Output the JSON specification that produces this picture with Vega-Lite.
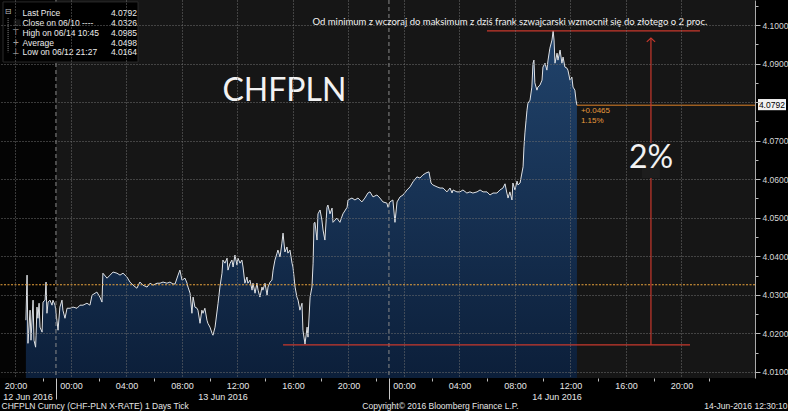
{
"$schema": "https://vega.github.io/schema/vega-lite/v6.json",
"width": 755, "height": 378,
"autosize": {"type": "none"},
"padding": {"left": 0, "top": 0, "right": 33, "bottom": 33},
"background": "#000000",
"config": {"view": {"stroke": null}, "axis": {"labelFont": "Liberation Sans", "titleFont": "Liberation Sans"}},
"datasets": {
"price": [
{"t":"2016-06-12T20:45","p":4.0234},{"t":"2016-06-12T20:50","p":4.0351},{"t":"2016-06-12T20:54","p":4.0174},{"t":"2016-06-12T21:03","p":4.0260},{"t":"2016-06-12T21:07","p":4.0182},{"t":"2016-06-12T21:16","p":4.0286},{"t":"2016-06-12T21:20","p":4.0182},{"t":"2016-06-12T21:27","p":4.0164},{"t":"2016-06-12T21:29","p":4.0195},{"t":"2016-06-12T21:33","p":4.0268},{"t":"2016-06-12T21:37","p":4.0239},{"t":"2016-06-12T21:42","p":4.0278},{"t":"2016-06-12T21:46","p":4.0216},{"t":"2016-06-12T21:55","p":4.0203},{"t":"2016-06-12T21:59","p":4.0281},{"t":"2016-06-12T22:08","p":4.0286},{"t":"2016-06-12T22:12","p":4.0333},{"t":"2016-06-12T22:16","p":4.0252},{"t":"2016-06-12T22:21","p":4.0281},{"t":"2016-06-12T22:29","p":4.0286},{"t":"2016-06-12T22:38","p":4.0273},{"t":"2016-06-12T22:42","p":4.0286},{"t":"2016-06-12T22:51","p":4.0273},{"t":"2016-06-12T22:59","p":4.0234},{"t":"2016-06-12T23:04","p":4.0208},{"t":"2016-06-12T23:12","p":4.0268},{"t":"2016-06-12T23:21","p":4.0286},{"t":"2016-06-12T23:25","p":4.0260},{"t":"2016-06-12T23:34","p":4.0239},{"t":"2016-06-12T23:43","p":4.0265},{"t":"2016-06-12T23:56","p":4.0265},
{"t":"2016-06-13T00:09","p":4.0268},{"t":"2016-06-13T00:26","p":4.0265},{"t":"2016-06-13T00:39","p":4.0273},{"t":"2016-06-13T00:52","p":4.0273},{"t":"2016-06-13T01:09","p":4.0278},{"t":"2016-06-13T01:22","p":4.0273},{"t":"2016-06-13T01:31","p":4.0299},{"t":"2016-06-13T01:44","p":4.0304},{"t":"2016-06-13T01:52","p":4.0307},{"t":"2016-06-13T02:05","p":4.0294},{"t":"2016-06-13T02:14","p":4.0281},{"t":"2016-06-13T02:18","p":4.0356},{"t":"2016-06-13T02:36","p":4.0343},{"t":"2016-06-13T02:49","p":4.0351},{"t":"2016-06-13T03:02","p":4.0359},{"t":"2016-06-13T03:19","p":4.0356},{"t":"2016-06-13T03:32","p":4.0351},{"t":"2016-06-13T03:45","p":4.0356},{"t":"2016-06-13T04:02","p":4.0346},{"t":"2016-06-13T04:15","p":4.0333},{"t":"2016-06-13T04:28","p":4.0325},{"t":"2016-06-13T04:45","p":4.0317},{"t":"2016-06-13T04:58","p":4.0333},{"t":"2016-06-13T05:11","p":4.0325},{"t":"2016-06-13T05:29","p":4.0320},{"t":"2016-06-13T05:42","p":4.0330},{"t":"2016-06-13T05:55","p":4.0325},{"t":"2016-06-13T06:12","p":4.0330},{"t":"2016-06-13T06:25","p":4.0330},{"t":"2016-06-13T06:38","p":4.0333},{"t":"2016-06-13T06:55","p":4.0330},{"t":"2016-06-13T07:08","p":4.0333},{"t":"2016-06-13T07:21","p":4.0328},{"t":"2016-06-13T07:30","p":4.0328},{"t":"2016-06-13T07:43","p":4.0351},{"t":"2016-06-13T07:51","p":4.0364},{"t":"2016-06-13T08:00","p":4.0338},{"t":"2016-06-13T08:13","p":4.0343},{"t":"2016-06-13T08:22","p":4.0330},{"t":"2016-06-13T08:26","p":4.0320},{"t":"2016-06-13T08:35","p":4.0304},{"t":"2016-06-13T08:43","p":4.0252},{"t":"2016-06-13T08:48","p":4.0294},{"t":"2016-06-13T08:56","p":4.0268},{"t":"2016-06-13T09:05","p":4.0265},{"t":"2016-06-13T09:09","p":4.0260},{"t":"2016-06-13T09:18","p":4.0226},{"t":"2016-06-13T09:26","p":4.0260},{"t":"2016-06-13T09:31","p":4.0252},{"t":"2016-06-13T09:39","p":4.0265},{"t":"2016-06-13T09:48","p":4.0234},{"t":"2016-06-13T09:52","p":4.0226},{"t":"2016-06-13T10:01","p":4.0216},{"t":"2016-06-13T10:10","p":4.0200},{"t":"2016-06-13T10:14","p":4.0195},{"t":"2016-06-13T10:23","p":4.0216},{"t":"2016-06-13T10:36","p":4.0278},{"t":"2016-06-13T10:44","p":4.0320},{"t":"2016-06-13T10:53","p":4.0356},{"t":"2016-06-13T10:57","p":4.0390},{"t":"2016-06-13T11:06","p":4.0382},{"t":"2016-06-13T11:15","p":4.0395},{"t":"2016-06-13T11:19","p":4.0364},{"t":"2016-06-13T11:28","p":4.0382},{"t":"2016-06-13T11:36","p":4.0390},{"t":"2016-06-13T11:41","p":4.0372},{"t":"2016-06-13T11:49","p":4.0403},{"t":"2016-06-13T11:58","p":4.0377},{"t":"2016-06-13T12:02","p":4.0395},{"t":"2016-06-13T12:11","p":4.0382},{"t":"2016-06-13T12:19","p":4.0390},{"t":"2016-06-13T12:24","p":4.0372},{"t":"2016-06-13T12:32","p":4.0330},{"t":"2016-06-13T12:41","p":4.0346},{"t":"2016-06-13T12:45","p":4.0330},{"t":"2016-06-13T12:54","p":4.0338},{"t":"2016-06-13T13:03","p":4.0312},{"t":"2016-06-13T13:07","p":4.0330},{"t":"2016-06-13T13:16","p":4.0304},{"t":"2016-06-13T13:24","p":4.0330},{"t":"2016-06-13T13:29","p":4.0312},{"t":"2016-06-13T13:37","p":4.0294},{"t":"2016-06-13T13:46","p":4.0320},{"t":"2016-06-13T13:50","p":4.0312},{"t":"2016-06-13T13:59","p":4.0330},{"t":"2016-06-13T14:08","p":4.0299},{"t":"2016-06-13T14:12","p":4.0320},{"t":"2016-06-13T14:21","p":4.0333},{"t":"2016-06-13T14:29","p":4.0338},{"t":"2016-06-13T14:34","p":4.0364},{"t":"2016-06-13T14:42","p":4.0390},{"t":"2016-06-13T14:51","p":4.0408},{"t":"2016-06-13T14:55","p":4.0416},{"t":"2016-06-13T15:04","p":4.0398},{"t":"2016-06-13T15:12","p":4.0434},{"t":"2016-06-13T15:17","p":4.0460},{"t":"2016-06-13T15:25","p":4.0411},{"t":"2016-06-13T15:34","p":4.0424},{"t":"2016-06-13T15:38","p":4.0408},{"t":"2016-06-13T15:47","p":4.0416},{"t":"2016-06-13T15:56","p":4.0382},{"t":"2016-06-13T16:00","p":4.0372},{"t":"2016-06-13T16:09","p":4.0320},{"t":"2016-06-13T16:17","p":4.0294},{"t":"2016-06-13T16:22","p":4.0286},{"t":"2016-06-13T16:30","p":4.0260},{"t":"2016-06-13T16:39","p":4.0278},{"t":"2016-06-13T16:43","p":4.0208},{"t":"2016-06-13T16:52","p":4.0172},{"t":"2016-06-13T17:01","p":4.0216},{"t":"2016-06-13T17:05","p":4.0190},{"t":"2016-06-13T17:14","p":4.0294},{"t":"2016-06-13T17:22","p":4.0320},{"t":"2016-06-13T17:27","p":4.0382},{"t":"2016-06-13T17:31","p":4.0486},{"t":"2016-06-13T17:35","p":4.0488},{"t":"2016-06-13T17:44","p":4.0442},{"t":"2016-06-13T17:48","p":4.0510},{"t":"2016-06-13T17:57","p":4.0520},{"t":"2016-06-13T18:05","p":4.0494},{"t":"2016-06-13T18:10","p":4.0468},{"t":"2016-06-13T18:18","p":4.0442},{"t":"2016-06-13T18:27","p":4.0527},{"t":"2016-06-13T18:31","p":4.0533},{"t":"2016-06-13T18:40","p":4.0510},{"t":"2016-06-13T18:49","p":4.0525},{"t":"2016-06-13T18:53","p":4.0488},{"t":"2016-06-13T19:10","p":4.0499},{"t":"2016-06-13T19:23","p":4.0488},{"t":"2016-06-13T19:36","p":4.0510},{"t":"2016-06-13T19:54","p":4.0527},{"t":"2016-06-13T19:58","p":4.0546},{"t":"2016-06-13T20:15","p":4.0551},{"t":"2016-06-13T20:28","p":4.0546},{"t":"2016-06-13T20:41","p":4.0551},{"t":"2016-06-13T20:58","p":4.0541},{"t":"2016-06-13T21:11","p":4.0551},{"t":"2016-06-13T21:24","p":4.0564},{"t":"2016-06-13T21:33","p":4.0567},{"t":"2016-06-13T21:46","p":4.0554},{"t":"2016-06-13T22:03","p":4.0559},{"t":"2016-06-13T22:16","p":4.0551},{"t":"2016-06-13T22:29","p":4.0541},{"t":"2016-06-13T22:46","p":4.0538},{"t":"2016-06-13T22:51","p":4.0527},{"t":"2016-06-13T22:59","p":4.0541},{"t":"2016-06-13T23:12","p":4.0546},{"t":"2016-06-13T23:21","p":4.0488},{"t":"2016-06-13T23:30","p":4.0541},{"t":"2016-06-13T23:43","p":4.0554},{"t":"2016-06-13T23:56","p":4.0559},
{"t":"2016-06-14T00:13","p":4.0572},{"t":"2016-06-14T00:26","p":4.0580},{"t":"2016-06-14T00:39","p":4.0593},{"t":"2016-06-14T00:56","p":4.0606},{"t":"2016-06-14T01:09","p":4.0603},{"t":"2016-06-14T01:22","p":4.0611},{"t":"2016-06-14T01:35","p":4.0616},{"t":"2016-06-14T01:48","p":4.0619},{"t":"2016-06-14T01:57","p":4.0590},{"t":"2016-06-14T02:05","p":4.0585},{"t":"2016-06-14T02:23","p":4.0580},{"t":"2016-06-14T02:36","p":4.0577},{"t":"2016-06-14T02:49","p":4.0577},{"t":"2016-06-14T03:06","p":4.0567},{"t":"2016-06-14T03:19","p":4.0577},{"t":"2016-06-14T03:28","p":4.0564},{"t":"2016-06-14T03:32","p":4.0572},{"t":"2016-06-14T03:49","p":4.0567},{"t":"2016-06-14T04:02","p":4.0567},{"t":"2016-06-14T04:15","p":4.0572},{"t":"2016-06-14T04:32","p":4.0564},{"t":"2016-06-14T04:45","p":4.0567},{"t":"2016-06-14T04:58","p":4.0564},{"t":"2016-06-14T05:16","p":4.0567},{"t":"2016-06-14T05:29","p":4.0572},{"t":"2016-06-14T05:42","p":4.0567},{"t":"2016-06-14T05:59","p":4.0567},{"t":"2016-06-14T06:12","p":4.0559},{"t":"2016-06-14T06:25","p":4.0564},{"t":"2016-06-14T06:42","p":4.0564},{"t":"2016-06-14T06:55","p":4.0572},{"t":"2016-06-14T07:08","p":4.0577},{"t":"2016-06-14T07:17","p":4.0588},{"t":"2016-06-14T07:25","p":4.0564},{"t":"2016-06-14T07:30","p":4.0551},{"t":"2016-06-14T07:38","p":4.0567},{"t":"2016-06-14T07:47","p":4.0546},{"t":"2016-06-14T07:51","p":4.0590},{"t":"2016-06-14T08:00","p":4.0572},{"t":"2016-06-14T08:09","p":4.0595},{"t":"2016-06-14T08:13","p":4.0585},{"t":"2016-06-14T08:22","p":4.0590},{"t":"2016-06-14T08:30","p":4.0616},{"t":"2016-06-14T08:35","p":4.0632},{"t":"2016-06-14T08:39","p":4.0684},{"t":"2016-06-14T08:43","p":4.0720},{"t":"2016-06-14T08:48","p":4.0753},{"t":"2016-06-14T08:52","p":4.0779},{"t":"2016-06-14T08:56","p":4.0797},{"t":"2016-06-14T09:05","p":4.0805},{"t":"2016-06-14T09:13","p":4.0839},{"t":"2016-06-14T09:18","p":4.0901},{"t":"2016-06-14T09:22","p":4.0909},{"t":"2016-06-14T09:26","p":4.0850},{"t":"2016-06-14T09:35","p":4.0831},{"t":"2016-06-14T09:39","p":4.0839},{"t":"2016-06-14T09:48","p":4.0844},{"t":"2016-06-14T09:57","p":4.0857},{"t":"2016-06-14T10:01","p":4.0891},{"t":"2016-06-14T10:10","p":4.0901},{"t":"2016-06-14T10:18","p":4.0883},{"t":"2016-06-14T10:23","p":4.0909},{"t":"2016-06-14T10:31","p":4.0940},{"t":"2016-06-14T10:40","p":4.0961},{"t":"2016-06-14T10:45","p":4.0985},{"t":"2016-06-14T10:49","p":4.0961},{"t":"2016-06-14T10:53","p":4.0901},{"t":"2016-06-14T11:02","p":4.0927},{"t":"2016-06-14T11:06","p":4.0909},{"t":"2016-06-14T11:15","p":4.0935},{"t":"2016-06-14T11:23","p":4.0901},{"t":"2016-06-14T11:28","p":4.0917},{"t":"2016-06-14T11:36","p":4.0891},{"t":"2016-06-14T11:45","p":4.0888},{"t":"2016-06-14T11:49","p":4.0883},{"t":"2016-06-14T11:58","p":4.0857},{"t":"2016-06-14T12:06","p":4.0865},{"t":"2016-06-14T12:11","p":4.0839},{"t":"2016-06-14T12:19","p":4.0831},{"t":"2016-06-14T12:24","p":4.0805},{"t":"2016-06-14T12:28","p":4.0792}
],
"legend": [
{"label":"Last Price","value":"4.0792","p":4.1032},
{"label":"Close on 06/10 ----","value":"4.0326","p":4.1005},
{"label":"High on 06/14 10:45","value":"4.0985","p":4.0979},
{"label":"Average","value":"4.0498","p":4.0954},
{"label":"Low on 06/12 21:27","value":"4.0164","p":4.0929}
]
},
"resolve": {"axis": {"x": "independent", "y": "independent"}},
"layer": [
{
"data": {"values": [{"t":"2016-06-12T18:53","t2":"2016-06-12T22:55","s":"prev"},{"t":"2016-06-12T22:55","t2":"2016-06-15T01:18","s":"cur"}]},
"mark": {"type": "rect"},
"encoding": {
"x": {"field": "t", "type": "temporal", "scale": {"domain": [{"year":2016,"month":6,"date":12,"hours":18,"minutes":53},{"year":2016,"month":6,"date":15,"hours":1,"minutes":18}]},
 "axis": {"orient": "bottom", "values": [{"year":2016,"month":6,"date":12,"hours":22,"minutes":55},{"year":2016,"month":6,"date":13,"hours":22,"minutes":55}], "labels": false, "ticks": true, "tickSize": 21, "tickColor": "#c8c8c8", "domain": false, "grid": false,
  "title": "CHFPLN Curncy (CHF-PLN X-RATE) 1 Days  Tick", "titleX": 1, "titleY": 27, "titleAlign": "left", "titleBaseline": "middle", "titleFontSize": 8.5, "titleFontWeight": "normal", "titleColor": "#e6e6e6"}},
"x2": {"field": "t2"},
"color": {"field": "s", "type": "nominal", "scale": {"domain": ["prev","cur"], "range": ["#040404","#161616"]}, "legend": null}
}
},
{
"data": {"name": "price"},
"mark": {"type": "area", "color": {"gradient": "linear", "x1": 0, "y1": 0, "x2": 0, "y2": 1, "stops": [{"offset": 0, "color": "#21436b"}, {"offset": 1, "color": "#0c1f3a"}]}},
"encoding": {
"x": {"field": "t", "type": "temporal", "scale": {"domain": [{"year":2016,"month":6,"date":12,"hours":18,"minutes":53},{"year":2016,"month":6,"date":15,"hours":1,"minutes":18}]},
 "axis": {"orient": "bottom", "zindex": 1, "values": [{"year":2016,"month":6,"date":12,"hours":20},{"year":2016,"month":6,"date":13,"hours":0},{"year":2016,"month":6,"date":13,"hours":4},{"year":2016,"month":6,"date":13,"hours":8},{"year":2016,"month":6,"date":13,"hours":12},{"year":2016,"month":6,"date":13,"hours":16},{"year":2016,"month":6,"date":13,"hours":20},{"year":2016,"month":6,"date":14,"hours":0},{"year":2016,"month":6,"date":14,"hours":4},{"year":2016,"month":6,"date":14,"hours":8},{"year":2016,"month":6,"date":14,"hours":12},{"year":2016,"month":6,"date":14,"hours":16},{"year":2016,"month":6,"date":14,"hours":20}],
  "format": "%H:%M", "labelColor": "#e6e6e6", "labelFontSize": 9, "labelPadding": 3, "labelFlush": false, "labelOverlap": false, "ticks": false, "domain": false, "grid": true, "gridColor": "#707070", "gridDash": [1, 2], "gridWidth": 1, "title": null}},
"y": {"field": "p", "type": "quantitative", "scale": {"domain": [4.0084, 4.1065], "zero": false, "nice": false},
 "axis": {"orient": "right", "zindex": 1, "values": [4.01,4.02,4.03,4.04,4.05,4.06,4.07,4.08,4.09,4.1],
  "labelExpr": "abs(datum.value-4.08)<0.001 ? '' : format(datum.value,'.4f')",
  "labelColor": "#d8d8d8", "labelFontSize": 8.5, "labelPadding": 2, "labelFlush": false, "labelOverlap": false,
  "tickSize": 5, "tickColor": "#bbbbbb", "domain": true, "domainColor": "#aaaaaa",
  "grid": true, "gridColor": "#707070", "gridDash": [1, 2], "title": null}},
"y2": {"datum": 4.0084}
}
},
{
"data": {"name": "price"},
"mark": {"type": "line", "color": "#dfe2e6", "strokeWidth": 1},
"encoding": {
"x": {"field": "t", "type": "temporal", "scale": {"domain": [{"year":2016,"month":6,"date":12,"hours":18,"minutes":53},{"year":2016,"month":6,"date":15,"hours":1,"minutes":18}]},
 "axis": {"orient": "bottom", "values": [{"year":2016,"month":6,"date":12,"hours":20,"minutes":52},{"year":2016,"month":6,"date":13,"hours":10,"minutes":55},{"year":2016,"month":6,"date":14,"hours":11}],
  "labelExpr": "timeFormat(datum.value, '%d %b %Y')", "labelColor": "#e6e6e6", "labelFontSize": 9, "labelPadding": 14, "labelFlush": false, "labelOverlap": false, "ticks": false, "domain": false, "grid": false, "title": null}},
"y": {"field": "p", "type": "quantitative", "scale": {"domain": [4.0084, 4.1065], "zero": false, "nice": false},
 "axis": {"orient": "right", "values": [4.015,4.025,4.035,4.045,4.055,4.065,4.075,4.085,4.095,4.105], "labels": false, "ticks": true, "tickSize": 3, "tickColor": "#bbbbbb", "domain": false, "grid": false, "title": null}}
}
},
{
"data": {"values": [{"t":"2016-06-12T22:55"},{"t":"2016-06-13T22:55"}]},
"mark": {"type": "rule", "color": "#8a8a8a", "strokeDash": [4, 3], "strokeWidth": 1},
"encoding": {
"x": {"field": "t", "type": "temporal", "scale": {"domain": [{"year":2016,"month":6,"date":12,"hours":18,"minutes":53},{"year":2016,"month":6,"date":15,"hours":1,"minutes":18}]},
 "axis": {"orient": "bottom", "values": [{"year":2016,"month":6,"date":12,"hours":22},{"year":2016,"month":6,"date":13,"hours":2},{"year":2016,"month":6,"date":13,"hours":6},{"year":2016,"month":6,"date":13,"hours":10},{"year":2016,"month":6,"date":13,"hours":14},{"year":2016,"month":6,"date":13,"hours":18},{"year":2016,"month":6,"date":13,"hours":22},{"year":2016,"month":6,"date":14,"hours":2},{"year":2016,"month":6,"date":14,"hours":6},{"year":2016,"month":6,"date":14,"hours":10},{"year":2016,"month":6,"date":14,"hours":14},{"year":2016,"month":6,"date":14,"hours":18},{"year":2016,"month":6,"date":14,"hours":22}],
  "labels": false, "ticks": true, "tickSize": 3, "tickColor": "#bbbbbb", "domain": false, "grid": false,
  "title": "Copyright© 2016 Bloomberg Finance L.P.", "titleX": 440, "titleY": 27, "titleAlign": "center", "titleBaseline": "middle", "titleFontSize": 8.5, "titleFontWeight": "normal", "titleColor": "#e6e6e6"}}
}
},
{
"data": {"values": [{"p": 4.0326}]},
"mark": {"type": "rule", "color": "#e9a23b", "strokeDash": [2, 1.5], "strokeWidth": 1},
"encoding": {
"y": {"field": "p", "type": "quantitative", "scale": {"domain": [4.0084, 4.1065], "zero": false, "nice": false}, "axis": null}
}
},
{
"data": {"values": [{"t": "2016-06-14T12:28", "p": 4.0792}]},
"mark": {"type": "rule", "color": "#dd8228", "strokeWidth": 1},
"encoding": {
"x": {"field": "t", "type": "temporal", "scale": {"domain": [{"year":2016,"month":6,"date":12,"hours":18,"minutes":53},{"year":2016,"month":6,"date":15,"hours":1,"minutes":18}]},
 "axis": {"orient": "bottom", "labels": false, "ticks": false, "domain": false, "grid": false,
  "title": "14-Jun-2016 12:30:10", "titleX": 787, "titleY": 27, "titleAlign": "right", "titleBaseline": "middle", "titleFontSize": 8.5, "titleFontWeight": "normal", "titleColor": "#e6e6e6"}},
"x2": {"datum": {"year":2016,"month":6,"date":15,"hours":1,"minutes":18}},
"y": {"field": "p", "type": "quantitative", "scale": {"domain": [4.0084, 4.1065], "zero": false, "nice": false}, "axis": null}
}
},
{
"data": {"values": [
{"t":"2016-06-14T05:59","t2":"2016-06-14T21:20","p":4.0985,"p2":4.0985},
{"t":"2016-06-13T15:17","t2":"2016-06-14T20:37","p":4.0170,"p2":4.0170},
{"t":"2016-06-14T17:48","t2":"2016-06-14T17:48","p":4.0170,"p2":4.0966}
]},
"mark": {"type": "rule", "color": "#c8382c", "strokeWidth": 1.2},
"encoding": {
"x": {"field": "t", "type": "temporal", "scale": {"domain": [{"year":2016,"month":6,"date":12,"hours":18,"minutes":53},{"year":2016,"month":6,"date":15,"hours":1,"minutes":18}]}, "axis": null},
"x2": {"field": "t2"},
"y": {"field": "p", "type": "quantitative", "scale": {"domain": [4.0084, 4.1065], "zero": false, "nice": false}, "axis": null},
"y2": {"field": "p2"}
}
},
{
"data": {"values": [{"t": "2016-06-14T17:48", "p": 4.0966}]},
"mark": {"type": "point", "shape": "M-1,0.9L0,0L1,0.9", "filled": false, "size": 70, "stroke": "#c8382c", "strokeWidth": 1.2, "opacity": 1},
"encoding": {
"x": {"field": "t", "type": "temporal", "scale": {"domain": [{"year":2016,"month":6,"date":12,"hours":18,"minutes":53},{"year":2016,"month":6,"date":15,"hours":1,"minutes":18}]}, "axis": null},
"y": {"field": "p", "type": "quantitative", "scale": {"domain": [4.0084, 4.1065], "zero": false, "nice": false}, "axis": null}
}
},
{
"data": {"values": [{"t": "2016-06-14T17:09", "t2": "2016-06-14T18:27", "p": 4.0694, "p2": 4.0603}]},
"mark": {"type": "rect", "color": "#1d1d1d"},
"encoding": {
"x": {"field": "t", "type": "temporal", "scale": {"domain": [{"year":2016,"month":6,"date":12,"hours":18,"minutes":53},{"year":2016,"month":6,"date":15,"hours":1,"minutes":18}]}, "axis": null},
"x2": {"field": "t2"},
"y": {"field": "p", "type": "quantitative", "scale": {"domain": [4.0084, 4.1065], "zero": false, "nice": false}, "axis": null},
"y2": {"field": "p2"}
}
},
{
"data": {"values": [{"label": "CHFPLN", "t": "2016-06-13T15:23", "p": 4.0830}, {"label": "2%", "t": "2016-06-14T17:49", "p": 4.0654}]},
"mark": {"type": "text", "font": "Lato", "fontSize": 32, "color": "#f2f2f2", "align": "center", "baseline": "middle"},
"encoding": {
"x": {"field": "t", "type": "temporal", "scale": {"domain": [{"year":2016,"month":6,"date":12,"hours":18,"minutes":53},{"year":2016,"month":6,"date":15,"hours":1,"minutes":18}]}, "axis": null},
"y": {"field": "p", "type": "quantitative", "scale": {"domain": [4.0084, 4.1065], "zero": false, "nice": false}, "axis": null},
"text": {"field": "label"}
}
},
{
"data": {"values": [{"label": "Od minimum z wczoraj do maksimum z dziś frank szwajcarski wzmocnił się do złotego o 2 proc.", "t": "2016-06-14T07:38", "p": 4.1007}]},
"mark": {"type": "text", "font": "Lato", "fontSize": 9.5, "color": "#f2f2f2", "align": "center", "baseline": "middle"},
"encoding": {
"x": {"field": "t", "type": "temporal", "scale": {"domain": [{"year":2016,"month":6,"date":12,"hours":18,"minutes":53},{"year":2016,"month":6,"date":15,"hours":1,"minutes":18}]}, "axis": null},
"y": {"field": "p", "type": "quantitative", "scale": {"domain": [4.0084, 4.1065], "zero": false, "nice": false}, "axis": null},
"text": {"field": "label"}
}
},
{
"data": {"values": [{"label": "+0.0465", "t": "2016-06-14T12:45", "p": 4.0777}, {"label": "1.15%", "t": "2016-06-14T12:45", "p": 4.0751}]},
"mark": {"type": "text", "font": "Liberation Sans", "fontSize": 8, "color": "#e69a3c", "align": "left", "baseline": "middle"},
"encoding": {
"x": {"field": "t", "type": "temporal", "scale": {"domain": [{"year":2016,"month":6,"date":12,"hours":18,"minutes":53},{"year":2016,"month":6,"date":15,"hours":1,"minutes":18}]}, "axis": null},
"y": {"field": "p", "type": "quantitative", "scale": {"domain": [4.0084, 4.1065], "zero": false, "nice": false}, "axis": null},
"text": {"field": "label"}
}
},
{
"data": {"values": [{"box": "legend"}]},
"mark": {"type": "rect", "color": "#000000", "stroke": "#2a2a2a", "strokeWidth": 1},
"encoding": {
"x": {"datum": {"year":2016,"month":6,"date":12,"hours":19,"minutes":6}, "type": "temporal", "scale": {"domain": [{"year":2016,"month":6,"date":12,"hours":18,"minutes":53},{"year":2016,"month":6,"date":15,"hours":1,"minutes":18}]}, "axis": null},
"x2": {"datum": {"year":2016,"month":6,"date":13,"hours":4,"minutes":50}},
"y": {"datum": 4.1060, "type": "quantitative", "scale": {"domain": [4.0084, 4.1065], "zero": false, "nice": false}, "axis": null},
"y2": {"datum": 4.0904}
}
},
{
"data": {"values": [{"tree": "line"}]},
"mark": {"type": "rule", "color": "#8c8c8c", "strokeDash": [1, 1], "strokeWidth": 1},
"encoding": {
"x": {"datum": {"year":2016,"month":6,"date":12,"hours":19,"minutes":28}, "type": "temporal", "scale": {"domain": [{"year":2016,"month":6,"date":12,"hours":18,"minutes":53},{"year":2016,"month":6,"date":15,"hours":1,"minutes":18}]}, "axis": null},
"y": {"datum": 4.1018, "type": "quantitative", "scale": {"domain": [4.0084, 4.1065], "zero": false, "nice": false}, "axis": null},
"y2": {"datum": 4.0929}
}
},
{
"data": {"values": [{"g": "⊟", "p": 4.1034}]},
"mark": {"type": "text", "font": "DejaVu Sans", "fontSize": 8, "color": "#bfbfbf", "align": "center", "baseline": "middle"},
"encoding": {
"x": {"datum": {"year":2016,"month":6,"date":12,"hours":19,"minutes":28}, "type": "temporal", "scale": {"domain": [{"year":2016,"month":6,"date":12,"hours":18,"minutes":53},{"year":2016,"month":6,"date":15,"hours":1,"minutes":18}]}, "axis": null},
"y": {"field": "p", "type": "quantitative", "scale": {"domain": [4.0084, 4.1065], "zero": false, "nice": false}, "axis": null},
"text": {"field": "g"}
}
},
{
"data": {"values": [{"g": "⊤", "p": 4.0979}, {"g": "+", "p": 4.0954}, {"g": "⊥", "p": 4.0929}]},
"mark": {"type": "text", "font": "DejaVu Sans", "fontSize": 8, "color": "#bfbfbf", "align": "center", "baseline": "middle"},
"encoding": {
"x": {"datum": {"year":2016,"month":6,"date":12,"hours":20,"minutes":2}, "type": "temporal", "scale": {"domain": [{"year":2016,"month":6,"date":12,"hours":18,"minutes":53},{"year":2016,"month":6,"date":15,"hours":1,"minutes":18}]}, "axis": null},
"y": {"field": "p", "type": "quantitative", "scale": {"domain": [4.0084, 4.1065], "zero": false, "nice": false}, "axis": null},
"text": {"field": "g"}
}
},
{
"data": {"values": [{"k": "last", "p": 4.1032}, {"k": "close", "p": 4.1006}]},
"mark": {"type": "point", "shape": "square", "filled": true, "size": 45, "opacity": 1},
"encoding": {
"x": {"datum": {"year":2016,"month":6,"date":12,"hours":20,"minutes":7}, "type": "temporal", "scale": {"domain": [{"year":2016,"month":6,"date":12,"hours":18,"minutes":53},{"year":2016,"month":6,"date":15,"hours":1,"minutes":18}]}, "axis": null},
"y": {"field": "p", "type": "quantitative", "scale": {"domain": [4.0084, 4.1065], "zero": false, "nice": false}, "axis": null},
"color": {"field": "k", "type": "nominal", "scale": {"domain": ["last", "close"], "range": ["#ffffff", "#f0a028"]}, "legend": null}
}
},
{
"data": {"name": "legend"},
"mark": {"type": "text", "font": "Liberation Sans", "fontSize": 8.5, "color": "#ececec", "align": "left", "baseline": "middle"},
"encoding": {
"x": {"datum": {"year":2016,"month":6,"date":12,"hours":20,"minutes":30}, "type": "temporal", "scale": {"domain": [{"year":2016,"month":6,"date":12,"hours":18,"minutes":53},{"year":2016,"month":6,"date":15,"hours":1,"minutes":18}]}, "axis": null},
"y": {"field": "p", "type": "quantitative", "scale": {"domain": [4.0084, 4.1065], "zero": false, "nice": false}, "axis": null},
"text": {"field": "label"}
}
},
{
"data": {"name": "legend"},
"mark": {"type": "text", "font": "Liberation Sans", "fontSize": 8.5, "color": "#ececec", "align": "right", "baseline": "middle"},
"encoding": {
"x": {"datum": {"year":2016,"month":6,"date":13,"hours":4,"minutes":45}, "type": "temporal", "scale": {"domain": [{"year":2016,"month":6,"date":12,"hours":18,"minutes":53},{"year":2016,"month":6,"date":15,"hours":1,"minutes":18}]}, "axis": null},
"y": {"field": "p", "type": "quantitative", "scale": {"domain": [4.0084, 4.1065], "zero": false, "nice": false}, "axis": null},
"text": {"field": "value"}
}
},
{
"data": {"values": [{"tag": "last"}]},
"mark": {"type": "rect", "color": "#f2f2f2"},
"encoding": {
"x": {"datum": {"year":2016,"month":6,"date":15,"hours":1,"minutes":31}, "type": "temporal", "scale": {"domain": [{"year":2016,"month":6,"date":12,"hours":18,"minutes":53},{"year":2016,"month":6,"date":15,"hours":1,"minutes":18}]}, "axis": null},
"x2": {"datum": {"year":2016,"month":6,"date":15,"hours":3,"minutes":32}},
"y": {"datum": 4.0808, "type": "quantitative", "scale": {"domain": [4.0084, 4.1065], "zero": false, "nice": false}, "axis": null},
"y2": {"datum": 4.0779}
}
},
{
"data": {"values": [{"label": "4.0792", "p": 4.0792}]},
"mark": {"type": "text", "font": "Liberation Sans", "fontSize": 8.5, "color": "#000000", "align": "center", "baseline": "middle"},
"encoding": {
"x": {"datum": {"year":2016,"month":6,"date":15,"hours":2,"minutes":31}, "type": "temporal", "scale": {"domain": [{"year":2016,"month":6,"date":12,"hours":18,"minutes":53},{"year":2016,"month":6,"date":15,"hours":1,"minutes":18}]}, "axis": null},
"y": {"field": "p", "type": "quantitative", "scale": {"domain": [4.0084, 4.1065], "zero": false, "nice": false}, "axis": null},
"text": {"field": "label"}
}
}
]
}
